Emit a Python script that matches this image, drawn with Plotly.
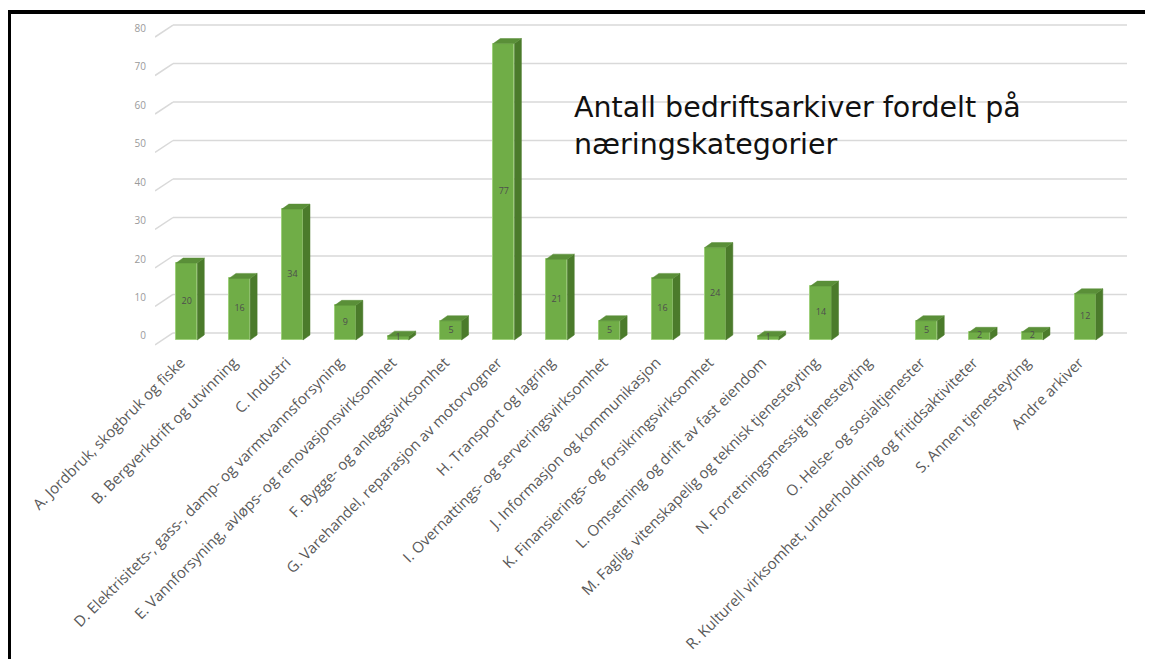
import plotly.graph_objects as go

# ---------------- data ----------------
categories = [
    "A. Jordbruk, skogbruk og fiske",
    "B. Bergverkdrift og utvinning",
    "C. Industri",
    "D. Elektrisitets-, gass-, damp- og varmtvannsforsyning",
    "E. Vannforsyning, avløps- og renovasjonsvirksomhet",
    "F. Bygge- og anleggsvirksomhet",
    "G. Varehandel, reparasjon av motorvogner",
    "H. Transport og lagring",
    "I. Overnattings- og serveringsvirksomhet",
    "J. Informasjon og kommunikasjon",
    "K. Finansierings- og forsikringsvirksomhet",
    "L. Omsetning og drift av fast eiendom",
    "M. Faglig, vitenskapelig og teknisk tjenesteyting",
    "N. Forretningsmessig tjenesteyting",
    "O. Helse- og sosialtjenester",
    "R. Kulturell virksomhet, underholdning og fritidsaktiviteter",
    "S. Annen tjenesteyting",
    "Andre arkiver",
]
values = [20, 16, 34, 9, 1, 5, 77, 21, 5, 16, 24, 1, 14, None, 5, 2, 2, 12]
y_ticks = [0, 10, 20, 30, 40, 50, 60, 70, 80]
title_text = "Antall bedriftsarkiver fordelt på<br>næringskategorier"

# ---------------- geometry / style ----------------
PAGE_OFF = 8  # default page body margin
W, H = 1153, 659
ML, MR, MT, MB = 155 - PAGE_OFF, 42 - PAGE_OFF, 22 - PAGE_OFF, 311 + PAGE_OFF
X_RANGE = [-0.6, 17.79]
Y_RANGE = [-2.08, 82.6]
plot_w = W - ML - MR
plot_h = H - MT - MB
px_per_cat = plot_w / (X_RANGE[1] - X_RANGE[0])
px_per_val = plot_h / (Y_RANGE[1] - Y_RANGE[0])

BAR_W = 0.40
DEPTH_X = 7 / px_per_cat
DEPTH_Y = 5 / px_per_val

FRONT = "#70ad47"
SIDE = "#4b7b2b"
TOP = "#5a8f38"

def paper_x(px):
    return (px - PAGE_OFF - ML) / plot_w

def paper_y(py):
    return (H - MB - (py - PAGE_OFF)) / plot_h

xs = list(range(len(categories)))

fig = go.Figure()

# front faces
fig.add_trace(go.Bar(
    x=xs, y=values, width=BAR_W,
    marker=dict(color=FRONT, line=dict(color="#9fd07c", width=1)),
    hoverinfo="skip", showlegend=False,
))

# side and top faces (3D look), computed from values
side_x, side_y, top_x, top_y = [], [], [], []
for i, v in zip(xs, values):
    if not v:
        continue
    r = i + BAR_W / 2
    l = i - BAR_W / 2
    side_x += [r, r + DEPTH_X, r + DEPTH_X, r, r, None]
    side_y += [0, DEPTH_Y, v + DEPTH_Y, v, 0, None]
    top_x += [l, r, r + DEPTH_X, l + DEPTH_X, l, None]
    top_y += [v, v, v + DEPTH_Y, v + DEPTH_Y, v, None]

fig.add_trace(go.Scatter(x=side_x, y=side_y, mode="lines", fill="toself",
                         fillcolor=SIDE, line=dict(width=0.5, color=SIDE),
                         hoverinfo="skip", showlegend=False))
fig.add_trace(go.Scatter(x=top_x, y=top_y, mode="lines", fill="toself",
                         fillcolor=TOP, line=dict(width=0.5, color=TOP),
                         hoverinfo="skip", showlegend=False))

# data labels in the middle of each bar
lab_x = [i for i, v in zip(xs, values) if v]
lab_y = [v / 2 for v in values if v]
lab_t = [str(v) for v in values if v]
fig.add_trace(go.Scatter(x=lab_x, y=lab_y, text=lab_t, mode="text",
                         textfont=dict(size=9, color="#4d4d4d", family="Open Sans"),
                         hoverinfo="skip", showlegend=False))

# 3D gridlines: front diagonal + back horizontal line
BACK_DX = 18 / px_per_cat
FRONT_DY = -5 / px_per_val
BACK_DY = 7 / px_per_val
shapes = []
for t in y_ticks:
    x0 = X_RANGE[0]
    x1 = X_RANGE[0] + BACK_DX
    shapes.append(dict(type="line", xref="x", yref="y", layer="below",
                       x0=x0, y0=t + FRONT_DY, x1=x1, y1=t + BACK_DY,
                       line=dict(color="#d9d9d9", width=1.5)))
    shapes.append(dict(type="line", xref="x", yref="y", layer="below",
                       x0=x1, y0=t + BACK_DY, x1=X_RANGE[1], y1=t + BACK_DY,
                       line=dict(color="#d9d9d9", width=1.5)))

# black frame (top and left edges)
shapes.append(dict(type="line", xref="paper", yref="paper",
                   x0=paper_x(7), y0=paper_y(12), x1=paper_x(1170), y1=paper_y(12),
                   line=dict(color="black", width=4)))
shapes.append(dict(type="line", xref="paper", yref="paper",
                   x0=paper_x(9), y0=paper_y(10), x1=paper_x(9), y1=paper_y(680),
                   line=dict(color="black", width=4)))

fig.update_layout(
    width=W, height=H, autosize=False,
    margin=dict(l=ML, r=MR, t=MT, b=MB),
    paper_bgcolor="white", plot_bgcolor="white",
    shapes=shapes,
    bargap=0,
    annotations=[dict(
        text=title_text, xref="paper", yref="paper",
        x=paper_x(572), y=paper_y(89), xanchor="left", yanchor="top",
        align="left", showarrow=False,
        font=dict(size=28.5, color="#111111", family="DejaVu Sans"),
    )],
    xaxis=dict(
        range=X_RANGE, tickmode="array", tickvals=xs, ticktext=categories,
        tickangle=-45, showgrid=False, zeroline=False, showline=False, ticks="",
        tickfont=dict(size=15, color="#595959", family="Open Sans"),
        ticklabelstandoff=2, ticklabelshift=-6,
    ),
    yaxis=dict(
        range=Y_RANGE, tickmode="array", tickvals=y_ticks,
        showgrid=False, zeroline=False, showline=False, ticks="",
        tickfont=dict(size=10, color="#9a9a9a", family="Open Sans"),
        ticklabelstandoff=8, ticklabelshift=-4,
    ),
)

fig.write_html("out.html")
